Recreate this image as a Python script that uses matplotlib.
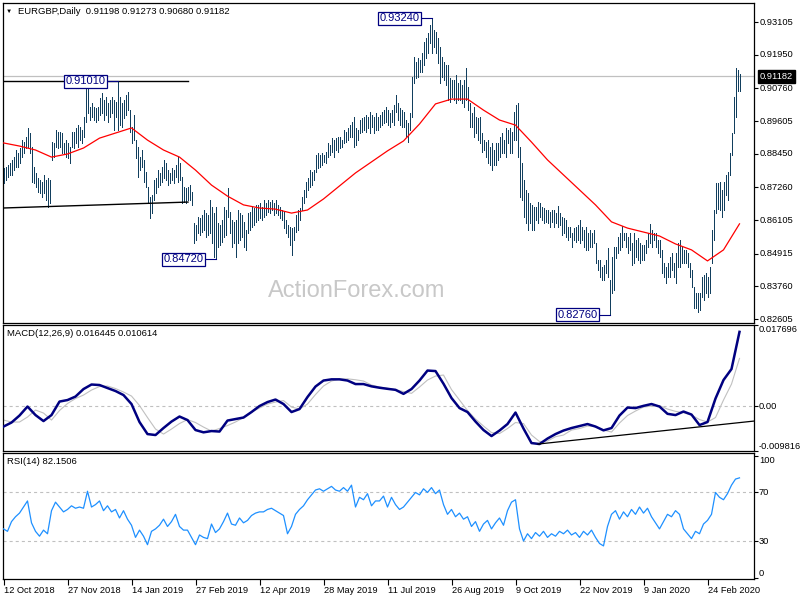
import matplotlib
matplotlib.use("Agg")
import matplotlib.pyplot as plt
import matplotlib.transforms as mtransforms
import numpy as np

plt.rcParams['font.family'] = ['Liberation Sans', 'DejaVu Sans']
plt.rcParams['lines.scale_dashes'] = False

# ---------------- data ----------------
symbol_title = 'EURGBP,Daily  0.91198 0.91273 0.90680 0.91182'
macd_title = 'MACD(12,26,9) 0.016445 0.010614'
rsi_title = 'RSI(14) 82.1506'

highs = [
0.8794, 0.8798, 0.8805, 0.8812, 0.8823, 0.8833, 0.8858, 0.8847, 0.8865, 0.8893,
0.8886, 0.8904, 0.8936, 0.8918, 0.8869, 0.8798, 0.8777, 0.8759, 0.8752, 0.8745,
0.8770, 0.8752, 0.8759, 0.8752, 0.8886, 0.8883, 0.8929, 0.8922, 0.8922, 0.8918,
0.8883, 0.8893, 0.8883, 0.8869, 0.8922, 0.8922, 0.8936, 0.8946, 0.8939, 0.8929,
0.8975, 0.9095, 0.9077, 0.9010, 0.9024, 0.9010, 0.9007, 0.9010, 0.9042, 0.9060,
0.9035, 0.9045, 0.9024, 0.9035, 0.9045, 0.9035, 0.9028, 0.9101, 0.9045, 0.9024,
0.9035, 0.9053, 0.9063, 0.8999, 0.8939, 0.8982, 0.8893, 0.8869, 0.8833, 0.8858,
0.8823, 0.8780, 0.8727, 0.8692, 0.8699, 0.8752, 0.8759, 0.8787, 0.8777, 0.8798,
0.8823, 0.8812, 0.8787, 0.8777, 0.8794, 0.8787, 0.8805, 0.8833, 0.8812, 0.8763,
0.8727, 0.8724, 0.8727, 0.8734, 0.8710, 0.8600, 0.8593, 0.8621, 0.8618, 0.8628,
0.8646, 0.8635, 0.8628, 0.8681, 0.8657, 0.8635, 0.8657, 0.8600, 0.8593, 0.8611,
0.8657, 0.8646, 0.8724, 0.8639, 0.8611, 0.8603, 0.8611, 0.8646, 0.8635, 0.8628,
0.8603, 0.8575, 0.8635, 0.8639, 0.8657, 0.8653, 0.8664, 0.8664, 0.8671, 0.8657,
0.8681, 0.8671, 0.8681, 0.8674, 0.8681, 0.8671, 0.8681, 0.8664, 0.8657, 0.8646,
0.8639, 0.8611, 0.8593, 0.8586, 0.8582, 0.8586, 0.8628, 0.8646, 0.8653, 0.8692,
0.8717, 0.8745, 0.8759, 0.8787, 0.8780, 0.8787, 0.8840, 0.8847, 0.8840, 0.8847,
0.8840, 0.8851, 0.8883, 0.8876, 0.8900, 0.8893, 0.8900, 0.8904, 0.8904, 0.8893,
0.8929, 0.8922, 0.8936, 0.8946, 0.8957, 0.8975, 0.8936, 0.8929, 0.8964, 0.8971,
0.8975, 0.8982, 0.8975, 0.8992, 0.8982, 0.8975, 0.8989, 0.8975, 0.8982, 0.8992,
0.8999, 0.9010, 0.8999, 0.8989, 0.8999, 0.9017, 0.9053, 0.9024, 0.9007, 0.8999,
0.8992, 0.8964, 0.8954, 0.8989, 0.9116, 0.9187, 0.9169, 0.9183, 0.9176, 0.9201,
0.9240, 0.9254, 0.9272, 0.9300, 0.9324, 0.9282, 0.9275, 0.9254, 0.9222, 0.9187,
0.9169, 0.9158, 0.9158, 0.9113, 0.9105, 0.9105, 0.9123, 0.9095, 0.9105, 0.9088,
0.9105, 0.9148, 0.9081, 0.9024, 0.8989, 0.9010, 0.8975, 0.8971, 0.8975, 0.8918,
0.8893, 0.8886, 0.8893, 0.8869, 0.8883, 0.8858, 0.8883, 0.8883, 0.8904, 0.8918,
0.8893, 0.8936, 0.8929, 0.8936, 0.8922, 0.8992, 0.9017, 0.9024, 0.8869, 0.8812,
0.8752, 0.8717, 0.8706, 0.8671, 0.8664, 0.8657, 0.8657, 0.8674, 0.8671, 0.8657,
0.8653, 0.8646, 0.8646, 0.8639, 0.8646, 0.8646, 0.8635, 0.8660, 0.8635, 0.8621,
0.8618, 0.8611, 0.8586, 0.8586, 0.8565, 0.8582, 0.8586, 0.8593, 0.8611, 0.8586,
0.8575, 0.8586, 0.8565, 0.8575, 0.8565, 0.8575, 0.8529, 0.8469, 0.8469, 0.8444,
0.8452, 0.8469, 0.8512, 0.8399, 0.8480, 0.8515, 0.8515, 0.8551, 0.8565, 0.8589,
0.8565, 0.8565, 0.8551, 0.8565, 0.8529, 0.8565, 0.8540, 0.8547, 0.8529, 0.8522,
0.8522, 0.8540, 0.8565, 0.8596, 0.8575, 0.8565, 0.8565, 0.8540, 0.8540, 0.8505,
0.8459, 0.8444, 0.8459, 0.8480, 0.8494, 0.8459, 0.8494, 0.8529, 0.8540, 0.8515,
0.8505, 0.8505, 0.8494, 0.8459, 0.8434, 0.8374, 0.8353, 0.8353, 0.8353, 0.8409,
0.8416, 0.8423, 0.8409, 0.8444, 0.8575, 0.8646, 0.8741, 0.8741, 0.8745, 0.8717,
0.8745, 0.8770, 0.8780, 0.8847, 0.8918, 0.9045, 0.9148, 0.9141, 0.9127]

lows = [
0.8741, 0.8752, 0.8763, 0.8770, 0.8770, 0.8787, 0.8798, 0.8798, 0.8812, 0.8833,
0.8847, 0.8865, 0.8869, 0.8847, 0.8745, 0.8741, 0.8727, 0.8710, 0.8706, 0.8692,
0.8706, 0.8681, 0.8657, 0.8671, 0.8823, 0.8833, 0.8869, 0.8865, 0.8869, 0.8847,
0.8847, 0.8833, 0.8830, 0.8812, 0.8869, 0.8865, 0.8883, 0.8869, 0.8893, 0.8883,
0.8904, 0.8957, 0.8989, 0.8964, 0.8975, 0.8964, 0.8957, 0.8964, 0.8982, 0.8989,
0.8964, 0.8982, 0.8957, 0.8975, 0.8989, 0.8929, 0.8975, 0.8929, 0.8946, 0.8939,
0.8971, 0.8982, 0.8999, 0.8922, 0.8883, 0.8893, 0.8830, 0.8763, 0.8787, 0.8798,
0.8745, 0.8727, 0.8671, 0.8618, 0.8635, 0.8681, 0.8706, 0.8727, 0.8734, 0.8745,
0.8759, 0.8752, 0.8734, 0.8741, 0.8752, 0.8741, 0.8763, 0.8745, 0.8752, 0.8671,
0.8674, 0.8671, 0.8681, 0.8681, 0.8664, 0.8529, 0.8540, 0.8565, 0.8558, 0.8568,
0.8575, 0.8551, 0.8558, 0.8565, 0.8529, 0.8480, 0.8472, 0.8515, 0.8522, 0.8533,
0.8551, 0.8558, 0.8621, 0.8565, 0.8515, 0.8529, 0.8480, 0.8529, 0.8540, 0.8551,
0.8515, 0.8505, 0.8565, 0.8575, 0.8586, 0.8593, 0.8603, 0.8611, 0.8618, 0.8611,
0.8621, 0.8628, 0.8639, 0.8635, 0.8646, 0.8628, 0.8635, 0.8628, 0.8618, 0.8611,
0.8582, 0.8565, 0.8551, 0.8522, 0.8487, 0.8540, 0.8568, 0.8575, 0.8611, 0.8646,
0.8671, 0.8692, 0.8717, 0.8727, 0.8734, 0.8752, 0.8780, 0.8794, 0.8798, 0.8805,
0.8816, 0.8812, 0.8833, 0.8840, 0.8851, 0.8833, 0.8858, 0.8851, 0.8865, 0.8869,
0.8883, 0.8886, 0.8893, 0.8904, 0.8904, 0.8869, 0.8876, 0.8893, 0.8918, 0.8922,
0.8929, 0.8922, 0.8936, 0.8918, 0.8939, 0.8918, 0.8929, 0.8929, 0.8939, 0.8946,
0.8954, 0.8957, 0.8946, 0.8939, 0.8957, 0.8946, 0.8992, 0.8964, 0.8946, 0.8939,
0.8939, 0.8904, 0.8886, 0.8929, 0.8975, 0.9095, 0.9113, 0.9116, 0.9134, 0.9134,
0.9158, 0.9183, 0.9201, 0.9236, 0.9201, 0.9222, 0.9201, 0.9166, 0.9095, 0.9116,
0.9105, 0.9088, 0.9035, 0.9028, 0.9045, 0.9035, 0.9024, 0.9035, 0.9035, 0.9024,
0.9010, 0.9035, 0.8999, 0.8939, 0.8939, 0.8904, 0.8918, 0.8893, 0.8883, 0.8851,
0.8858, 0.8833, 0.8812, 0.8805, 0.8787, 0.8805, 0.8805, 0.8823, 0.8833, 0.8847,
0.8847, 0.8833, 0.8883, 0.8847, 0.8847, 0.8893, 0.8893, 0.8833, 0.8692, 0.8681,
0.8621, 0.8600, 0.8575, 0.8600, 0.8575, 0.8575, 0.8611, 0.8600, 0.8621, 0.8611,
0.8600, 0.8603, 0.8600, 0.8586, 0.8603, 0.8586, 0.8600, 0.8586, 0.8593, 0.8558,
0.8565, 0.8551, 0.8540, 0.8551, 0.8515, 0.8540, 0.8533, 0.8540, 0.8529, 0.8540,
0.8515, 0.8505, 0.8505, 0.8515, 0.8515, 0.8529, 0.8459, 0.8434, 0.8409, 0.8399,
0.8399, 0.8423, 0.8409, 0.8276, 0.8353, 0.8363, 0.8476, 0.8494, 0.8505, 0.8515,
0.8540, 0.8515, 0.8494, 0.8505, 0.8452, 0.8459, 0.8480, 0.8469, 0.8459, 0.8469,
0.8469, 0.8494, 0.8515, 0.8529, 0.8515, 0.8540, 0.8515, 0.8494, 0.8480, 0.8423,
0.8409, 0.8388, 0.8409, 0.8409, 0.8434, 0.8409, 0.8388, 0.8444, 0.8444, 0.8459,
0.8459, 0.8459, 0.8444, 0.8409, 0.8374, 0.8300, 0.8300, 0.8286, 0.8293, 0.8339,
0.8328, 0.8353, 0.8339, 0.8353, 0.8459, 0.8540, 0.8635, 0.8650, 0.8646, 0.8621,
0.8646, 0.8699, 0.8681, 0.8770, 0.8840, 0.8918, 0.8975, 0.9067, 0.9068]

# 55-period moving average, read every 8 bars
ma_step = 8
ma55 = [0.8883, 0.8872, 0.8858, 0.8833, 0.8844, 0.8865, 0.8900, 0.8918, 0.8936, 0.8893,
        0.8858, 0.8833, 0.8787, 0.8734, 0.8695, 0.8664, 0.8653, 0.8649, 0.8635, 0.8646,
        0.8685, 0.8731, 0.8777, 0.8816, 0.8855, 0.8890, 0.8950, 0.9021, 0.9038, 0.9038,
        0.8999, 0.8964, 0.8946, 0.8886, 0.8823, 0.8770, 0.8717, 0.8664, 0.8604, 0.8582,
        0.8568, 0.8554, 0.8526, 0.8505, 0.8466, 0.8505, 0.8597]

# MACD main / signal, read every 4 bars
macd_step = 4
macd_main = [
-0.00448, -0.00360, -0.00207, -0.00011, -0.00197, -0.00328, -0.00197, 0.00098, 0.00131, 0.00207,
0.00371, 0.00470, 0.00459, 0.00393, 0.00328, 0.00240, 0.00044, -0.00349, -0.00612, -0.00633,
-0.00480, -0.00339, -0.00229, -0.00306, -0.00524, -0.00574, -0.00546, -0.00557, -0.00317, -0.00284,
-0.00251, -0.00131, 0.00000, 0.00087, 0.00142, 0.00044, -0.00131, -0.00066, 0.00197, 0.00426,
0.00557, 0.00583, 0.00583, 0.00557, 0.00480, 0.00480, 0.00430, 0.00400, 0.00376, 0.00354,
0.00266, 0.00371, 0.00557, 0.00775, 0.00764, 0.00487, 0.00175, -0.00044, -0.00131, -0.00339,
-0.00524, -0.00655, -0.00535, -0.00393, -0.00142, -0.00491, -0.00808, -0.00830, -0.00710, -0.00612,
-0.00535, -0.00480, -0.00437, -0.00393, -0.00448, -0.00531, -0.00480, -0.00207, -0.00033, -0.00044,
0.00004, 0.00044, -0.00011, -0.00170, -0.00197, -0.00120, -0.00186, -0.00415, -0.00349, 0.00164,
0.00568, 0.00808, 0.01620]
macd_signal = [
-0.00306, -0.00349, -0.00349, -0.00240, -0.00087, -0.00153, -0.00306, -0.00098, 0.00055, 0.00164,
0.00240, 0.00349, 0.00426, 0.00437, 0.00382, 0.00306, 0.00218, 0.00011, -0.00251, -0.00502,
-0.00612, -0.00502, -0.00382, -0.00295, -0.00360, -0.00459, -0.00546, -0.00491, -0.00426, -0.00349,
-0.00251, -0.00131, -0.00044, 0.00044, 0.00087, 0.00120, -0.00022, -0.00066, 0.00044, 0.00251,
0.00437, 0.00546, 0.00590, 0.00594, 0.00574, 0.00546, 0.00459, 0.00415, 0.00387, 0.00356,
0.00317, 0.00277, 0.00415, 0.00568, 0.00655, 0.00677, 0.00360, 0.00131, -0.00098, -0.00284,
-0.00437, -0.00579, -0.00601, -0.00491, -0.00360, -0.00382, -0.00633, -0.00775, -0.00764, -0.00670,
-0.00633, -0.00524, -0.00491, -0.00437, -0.00448, -0.00524, -0.00568, -0.00371, -0.00207, -0.00109,
-0.00022, 0.00000, 0.00011, -0.00066, -0.00116, -0.00146, -0.00197, -0.00295, -0.00349, -0.00251,
0.00131, 0.00480, 0.01040]

# RSI(14), read every 2 bars
rsi_step = 2
rsi14 = [40, 38, 46, 50, 53, 58, 63, 45, 38, 34,
         39, 36, 55, 62, 58, 54, 56, 59, 57, 58,
         57, 71, 58, 60, 63, 55, 59, 54, 56, 49,
         55, 48, 43, 33, 39, 34, 27, 38, 40, 43,
         48, 42, 46, 52, 42, 39, 39, 33, 27, 35,
         33, 32, 44, 37, 40, 46, 53, 44, 43, 49,
         45, 47, 51, 53, 54, 54, 56, 57, 55, 53,
         51, 36, 42, 52, 56, 59, 64, 68, 72, 73,
         71, 73, 75, 72, 71, 74, 71, 76, 58, 66,
         64, 69, 59, 63, 63, 67, 58, 66, 60, 56,
         58, 62, 66, 70, 68, 73, 70, 74, 69, 72,
         60, 52, 56, 50, 53, 48, 50, 42, 46, 38,
         44, 47, 40, 45, 49, 43, 55, 62, 64, 40,
         30, 36, 32, 37, 34, 38, 33, 36, 34, 38,
         36, 39, 35, 37, 33, 38, 35, 39, 33, 28,
         26, 42, 52, 55, 48, 54, 50, 56, 52, 58,
         53, 57, 50, 45, 40, 46, 52, 50, 55, 52,
         40, 36, 32, 38, 36, 44, 47, 52, 70, 66,
         64, 69, 76, 81, 82]

date_labels = ['12 Oct 2018', '27 Nov 2018', '14 Jan 2019', '27 Feb 2019', '12 Apr 2019',
               '28 May 2019', '11 Jul 2019', '26 Aug 2019', '9 Oct 2019', '22 Nov 2019',
               '9 Jan 2020', '24 Feb 2020']
date_step = 32

price_ticks = [0.93105, 0.91950, 0.90760, 0.89605, 0.88450, 0.87260, 0.86105, 0.84915, 0.83760, 0.82605]
last_price = 0.91182

# swing labels: bar index and price
swing_bars = [57, 214, 106, 303]
swing_prices = [0.91010, 0.93240, 0.84720, 0.82760]

# hand-drawn trend lines (bar index, value)
resist_x = [-0.25, 92.25]
resist_y = [0.9101, 0.9101]
support_x = [-0.25, 92.25]
support_y = [0.8653, 0.8674]
macd_trend_x = [267.25, 375.25]
macd_trend_y = [-0.0083, -0.00328]

# ---------------- drawing ----------------
W, H = 800, 600
fig = plt.figure(figsize=(8, 6), dpi=100)
fig.patch.set_facecolor('white')


def px_axes(top, bottom, left=3, right=754):
    return fig.add_axes([left / W, 1 - bottom / H, (right - left) / W, (bottom - top) / H])


ax_p = px_axes(3, 323)
ax_m = px_axes(325, 451)
ax_r = px_axes(453, 579)

BAR = '#123f5e'
NAVY = '#000080'
GRAY = '#c0c0c0'
FS = 6.7

for ax in (ax_p, ax_m, ax_r):
    ax.set_xlim(-0.25, 375.25)
    ax.set_facecolor('white')
    for s in ax.spines.values():
        s.set_linewidth(0.9)
        s.set_color('black')
    ax.yaxis.tick_right()
    ax.tick_params(axis='y', direction='out', length=3, width=0.8, pad=2,
                   labelright=False, labelleft=False)
    ax.tick_params(axis='x', bottom=False, labelbottom=False)


def right_label(ax, y, s, va='center', dx=5):
    tr = mtransforms.offset_copy(
        mtransforms.blended_transform_factory(ax.transAxes, ax.transData),
        fig=fig, x=dx, y=0, units='dots')
    ax.text(1.0, y, s, transform=tr, ha='left', va=va, fontsize=FS,
            color='black', clip_on=False)


# main price panel
bars = np.arange(len(highs))
ax_p.set_ylim(0.82465, 0.93777)
ax_p.axhline(last_price, color=GRAY, lw=0.9, zorder=1)
ax_p.vlines(bars, lows, highs, color=BAR, lw=0.5, antialiased=False, zorder=3)
ax_p.plot(np.arange(0, len(highs), ma_step)[:len(ma55)], ma55, color='red', lw=0.9, zorder=4)
ax_p.plot(resist_x, resist_y, color='black', lw=1.0, zorder=4)
ax_p.plot(support_x, support_y, color='black', lw=1.0, zorder=4)

for bi, val in zip(swing_bars, swing_prices):
    ax_p.plot([bi - 5, bi], [val, val], color=NAVY, lw=0.8, zorder=5)
    ax_p.text(bi - 6.0, val, f'{val:.5f}', ha='right', va='center', fontsize=8,
              color=NAVY, zorder=6,
              bbox=dict(boxstyle='square,pad=0.15', fc='white', ec=NAVY, lw=0.9))

ax_p.set_yticks(price_ticks)
for v in price_ticks:
    right_label(ax_p, v, f'{v:.5f}', dx=6)

tr = mtransforms.offset_copy(
    mtransforms.blended_transform_factory(ax_p.transAxes, ax_p.transData),
    fig=fig, x=6, y=0, units='dots')
ax_p.text(1.0, last_price, f'{last_price:.5f}', transform=tr, ha='left', va='center',
          fontsize=FS, color='white', clip_on=False, zorder=10,
          bbox=dict(boxstyle='square,pad=0.25', fc='black', ec='black'))

# MACD panel
mx = np.arange(0, len(highs), macd_step)[:len(macd_main)]
ax_m.set_ylim(-0.009816, 0.017696)
ax_m.axhline(0, color=GRAY, lw=0.8, dashes=(2.2, 2.2), zorder=1)
ax_m.plot(mx, macd_signal, color=GRAY, lw=0.8, zorder=2)
ax_m.plot(mx, macd_main, color=NAVY, lw=1.8, zorder=3, solid_joinstyle='round')
ax_m.plot(macd_trend_x, macd_trend_y, color='black', lw=0.9, zorder=4)
ax_m.set_yticks([-0.009816, 0.0, 0.017696])
right_label(ax_m, 0.017696, '0.017696', va='top')
right_label(ax_m, 0.0, '0.00')
right_label(ax_m, -0.009816, '-0.009816', va='bottom')

# RSI panel
rx = np.arange(0, len(highs), rsi_step)[:len(rsi14)]
ax_r.set_ylim(-1.23, 102.46)
ax_r.axhline(70, color=GRAY, lw=0.8, dashes=(2.2, 2.2), zorder=1)
ax_r.axhline(30, color=GRAY, lw=0.8, dashes=(2.2, 2.2), zorder=1)
ax_r.plot(rx, rsi14, color='#1e90ff', lw=0.9, zorder=3)
ax_r.set_yticks([0, 30, 70, 100])
right_label(ax_r, 100, '100', va='top')
right_label(ax_r, 70, '70')
right_label(ax_r, 30, '30')
right_label(ax_r, 0, '0', va='bottom')

ax_r.set_xticks(np.arange(len(date_labels)) * date_step)
ax_r.set_xticklabels(date_labels, ha='left')
ax_r.tick_params(axis='x', bottom=True, labelbottom=True, direction='out',
                 length=4, width=0.8, pad=1, labelsize=FS)

# header texts and watermark
fig.text(6 / W, 1 - 11 / H, '\u25bc', fontsize=4.5, va='center', ha='left', color='black')
fig.text(18 / W, 1 - 12 / H, symbol_title, fontsize=6.8, va='center', ha='left')
fig.text(7 / W, 1 - 333 / H, macd_title, fontsize=6.8, va='center', ha='left')
fig.text(7 / W, 1 - 462 / H, rsi_title, fontsize=6.8, va='center', ha='left')
fig.text(357 / W, 1 - 291 / H, 'ActionForex.com', fontsize=17, color='#c8c8c8',
         ha='center', va='center')

fig.savefig('out.png', dpi=100, facecolor='white')
